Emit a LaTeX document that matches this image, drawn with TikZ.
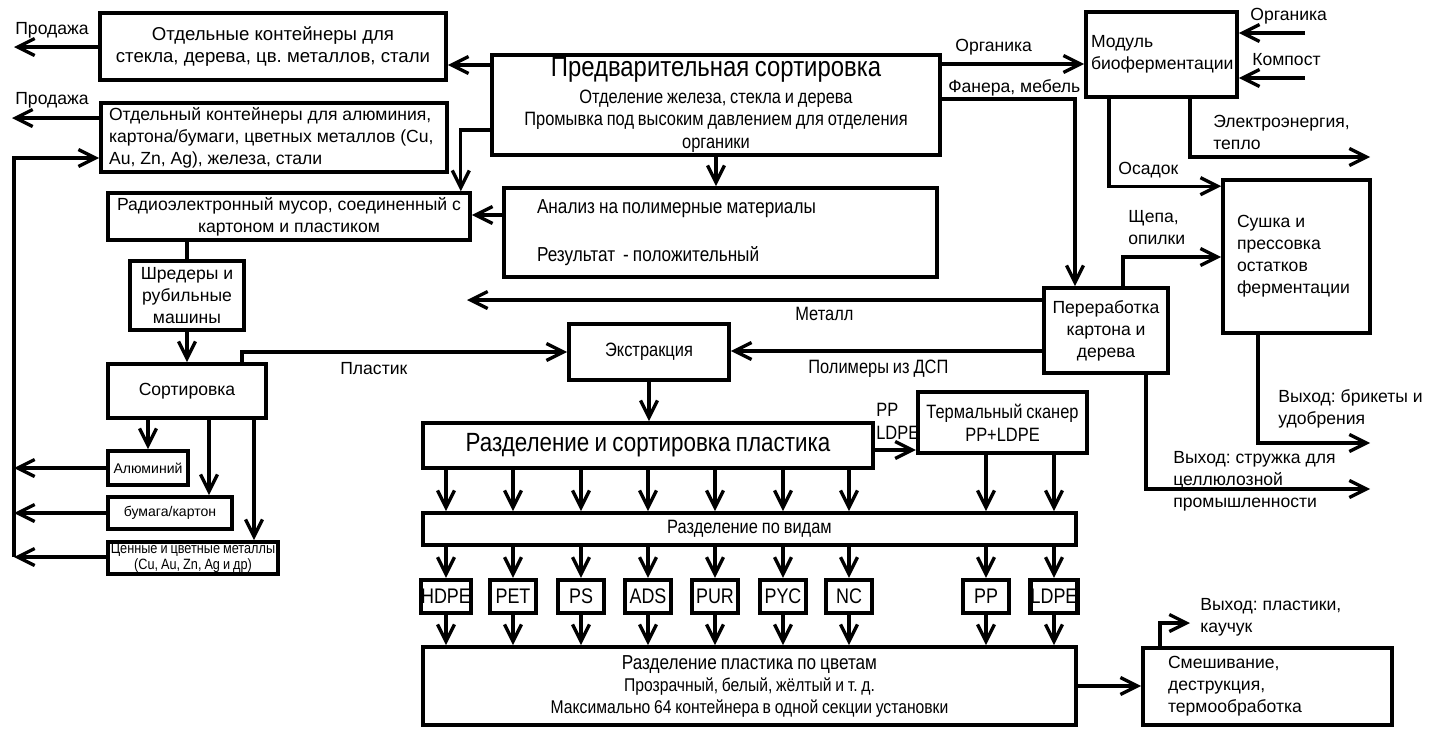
\documentclass[tikz,border=0pt]{standalone}
\usepackage{fontspec}
\setmainfont{Liberation Sans}
\newfontfamily\narrowsans[FakeStretch=0.85,WordSpace=0.85]{Liberation Sans}
\frenchspacing
\usetikzlibrary{arrows.meta,positioning,calc}
\tikzset{
  box/.style={rectangle, draw, line width=2.1pt, inner sep=0pt, align=center,
              font=\fontsize{10}{12.5}\selectfont},
  nbox/.style={box, font=\narrowsans\fontsize{11}{13}\selectfont},
  sbox/.style={box, font=\fontsize{8}{9.5}\selectfont},
  tbox/.style={box, line width=2.4pt, minimum width=0.92cm, minimum height=0.66cm,
               font=\narrowsans\fontsize{12}{13}\selectfont},
  lbl/.style={align=left, inner sep=0pt, anchor=west, font=\fontsize{10}{12.5}\selectfont},
  nlbl/.style={lbl, font=\narrowsans\fontsize{11}{13}\selectfont},
  arr/.style={-{Straight Barb[length=3.4mm,width=3.4mm]}, line width=1.9pt},
  ln/.style={line width=1.9pt}
}

\begin{document}
\begin{tikzpicture}[x=0.02cm,y=-0.02cm]
  \useasboundingbox (0,0) rectangle (1434,747);

  % boxes, top part
  \node[box, minimum width=6.92cm, minimum height=1.34cm, font=\fontsize{10.6}{13}\selectfont] (cont1) at (273,46.5)
    {Отдельные контейнеры для\\стекла, дерева, цв. металлов, стали};
  \node[box, minimum height=1.38cm, text width=6.6cm, inner xsep=0.16cm, align=flush left] (cont2) at (274,137.5)
    {Отдельный контейнеры для алюминия,\\картона/бумаги, цветных металлов (Cu,\\Au, Zn, Ag), железа, стали};
  \node[box, minimum width=7.24cm, minimum height=0.94cm] (radio) at (289,216.5)
    {Радиоэлектронный мусор, соединенный с\\картоном и пластиком};
  \node[nbox, minimum width=8.96cm, minimum height=2cm] (predv) at (716,105)
    {{\fontsize{16}{18}\selectfont Предварительная сортировка}\\[2pt]
     Отделение железа, стекла и дерева\\
     Промывка под высоким давлением для отделения\\органики};
  \node[nbox, minimum height=1.78cm, text width=7.34cm, inner xsep=0.66cm, align=flush left,
        font=\narrowsans\fontsize{11.5}{13}\selectfont] (analysis) at (720.5,232.5)
    {Анализ на полимерные материалы\\[14pt]Результат \ - положительный};
  \node[box, minimum height=1.7cm, text width=2.82cm, inner xsep=0.1cm, align=flush left] (bio) at (1161.5,54.5)
    {Модуль\\биоферментации};
  \node[box, minimum height=3.06cm, text width=2.38cm, inner xsep=0.28cm, align=flush left] (drying) at (1296.5,256.5)
    {Сушка и\\прессовка\\остатков\\ферментации};
  \node[box, minimum width=2.48cm, minimum height=1.7cm] (pererab) at (1106,330.5)
    {Переработка\\картона и\\дерева};

  % left column
  \node[box, minimum width=2.28cm, minimum height=1.38cm] (shred) at (187,295.5)
    {Шредеры и\\рубильные\\машины};
  \node[box, minimum width=3.16cm, minimum height=1.08cm] (sort) at (187,391) {Сортировка};
  \node[sbox, minimum width=1.6cm, minimum height=0.68cm] (alum) at (148,468) {Алюминий};
  \node[sbox, minimum width=2.48cm, minimum height=0.64cm] (paper) at (170,513) {бумага/картон};
  \node[sbox, minimum width=3.4cm, minimum height=0.64cm, font=\narrowsans\fontsize{8.5}{9.5}\selectfont] (prec) at (193,558)
    {Ценные и цветные металлы\\(Cu, Au, Zn, Ag и др)};

  % plastics
  \node[nbox, minimum width=3.2cm, minimum height=1.12cm] (extr) at (649,352) {Экстракция};
  \node[nbox, minimum width=9cm, minimum height=0.9cm, font=\narrowsans\fontsize{15}{16}\selectfont] (razdel) at (648,445.5)
    {Разделение и сортировка пластика};
  \node[nbox, minimum width=3.38cm, minimum height=1.22cm, line width=2.4pt] (thermal) at (1002.5,422.5)
    {Термальный сканер\\PP+LDPE};
  \node[nbox, minimum width=13.06cm, minimum height=0.64cm] (vidy) at (749.5,529) {Разделение по видам};
  \foreach \n/\x/\t in {1/446/HDPE, 2/513/PET, 3/581/PS, 4/648/ADS, 5/715/PUR,
                        6/783/PYC, 7/849/NC, 8/986/PP, 9/1054/LDPE}
    \node[tbox] (t\n) at (\x,596.5) {\t};
  \node[nbox, minimum width=13.06cm, minimum height=1.56cm, font=\narrowsans\fontsize{10.5}{12.5}\selectfont] (color) at (749.5,686)
    {{\fontsize{11.5}{13}\selectfont Разделение пластика по цветам}\\
     Прозрачный, белый, жёлтый и т. д.\\
     Максимально 64 контейнера в одной секции установки};
  \node[box, minimum height=1.54cm, text width=3.98cm, inner xsep=0.5cm, align=flush left] (mix) at (1267.5,686.5)
    {Смешивание,\\деструкция,\\термообработка};

  % free ends
  \coordinate (sale1) at (14,47);
  \coordinate (sale2) at (12,118);
  \coordinate (busb) at (14,557);
  \coordinate (orgin) at (1305,33);
  \coordinate (compin) at (1305,78);
  \coordinate (elecout) at (1370,157);
  \coordinate (metalend) at (467,300);
  \coordinate (dryout) at (1370,443);
  \coordinate (perout) at (1370,489);
  \coordinate (mixout) at (1190,623);

  % connectors
  \draw[arr] (cont1.west |- sale1) -- (sale1);
  \draw[arr] (cont2.west |- sale2) -- (sale2);
  \draw[arr] (predv.west |- 0,65) -- (cont1.east |- 0,65);
  \draw[arr] (predv.west |- 0,130) -| ([xshift=-0.22cm]radio.north east);
  \draw[arr] (analysis.west |- 0,215) -- (radio.east |- 0,215);
  \draw[arr] (predv.south) -- (predv.south |- analysis.north);
  \draw[arr] (predv.east |- 0,64) -- (bio.west |- 0,64);
  \draw[arr] (predv.east |- 0,99) -| ([xshift=-0.62cm]pererab.north);
  \draw[arr] (orgin) -- (bio.east |- orgin);
  \draw[arr] (compin) -- (bio.east |- compin);
  \draw[arr] ([xshift=0.57cm]bio.south) |- (elecout);
  \draw[arr] ([xshift=-1.05cm]bio.south) |- ([yshift=-0.16cm]drying.north west);
  \draw[arr] ([xshift=0.34cm]pererab.north) |- (drying.west |- 0,257);
  \draw[arr] (pererab.west |- metalend) -- (metalend);
  \draw[arr] (pererab.west |- 0,351) -- (extr.east |- 0,351);
  \draw[arr] ([xshift=1.1cm]sort.north) |- (extr.west);
  \draw[arr] ([xshift=-0.77cm]drying.south) |- (dryout);
  \draw[arr] ([xshift=0.8cm]pererab.south) |- (perout);

  \draw[ln] (shred.north |- radio.south) -- (shred.north);
  \draw[arr] (shred.south) -- (sort.north);
  \draw[arr] (alum.north |- sort.south) -- (alum.north);
  \draw[arr] (209,0 |- sort.south) -- (209,0 |- paper.north);
  \draw[arr] (254,0 |- sort.south) -- (254,0 |- prec.north);
  \draw[arr] (busb) |- (cont2.west |- 0,158);
  \draw[arr] (alum.west) -- (alum.west -| busb);
  \draw[arr] (paper.west) -- (paper.west -| busb);
  \draw[arr] (prec.west |- busb) -- (busb);

  \draw[arr] (extr.south) -- (extr.south |- razdel.north);
  \draw[arr] (razdel.east |- 0,450) -- (thermal.west |- 0,450);
  \foreach \n in {1,...,7}
    \draw[arr] (t\n.north |- razdel.south) -- (t\n.north |- vidy.north);
  \foreach \n in {8,9}
    \draw[arr] (t\n.north |- thermal.south) -- (t\n.north |- vidy.north);
  \foreach \n in {1,...,9} {
    \draw[arr] (t\n.north |- vidy.south) -- (t\n.north);
    \draw[arr] (t\n.south) -- (t\n.south |- color.north);
  }
  \draw[arr] (color.east) -- (mix.west |- color.east);
  \draw[arr] ([xshift=-2.15cm]mix.north) |- (mixout);

  % labels
  \node[lbl] (lsale1) at (15,30) {Продажа};
  \node[lbl] (lsale2) at (15,100) {Продажа};
  \node[lbl] (lorg1) at (955,47) {Органика};
  \node[lbl] (lfan) at (948,88) {Фанера, мебель};
  \node[lbl] (lorg2) at (1250,16) {Органика};
  \node[lbl] (lcomp) at (1252,60) {Компост};
  \node[lbl] (lelec) at (1213,132) {Электроэнергия,\\тепло};
  \node[lbl] (losad) at (1118,170) {Осадок};
  \node[lbl] (lchip) at (1128,228) {Щепа,\\опилки};
  \node[nlbl] (lmet) at (795,314) {Металл};
  \node[nlbl] (lpol) at (808,369) {Полимеры из ДСП};
  \node[lbl] (lplast) at (340,369) {Пластик};
  \node[nlbl] (lppl) at (876,421) {PP\\LDPE};
  \node[lbl] (lbri) at (1278,409) {Выход: брикеты и\\удобрения};
  \node[lbl] (lcel) at (1173,481) {Выход: стружка для\\целлюлозной\\промышленности};
  \node[lbl] (lmix) at (1200,617) {Выход: пластики,\\каучук};
\end{tikzpicture}
\end{document}
